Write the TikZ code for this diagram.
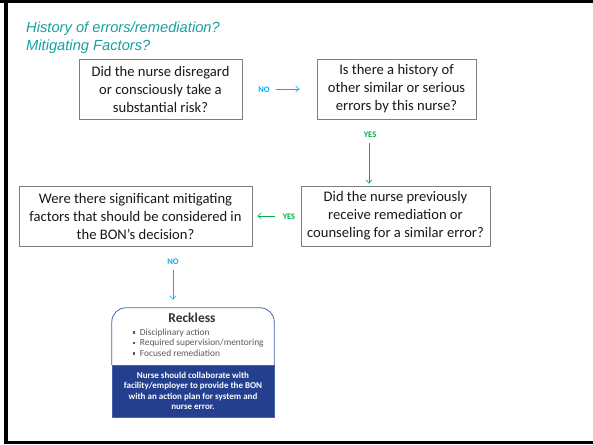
\documentclass[tikz,border=0pt]{standalone}
\usepackage{fontspec}
\setmainfont{Carlito}
\newfontfamily\titlefont{Liberation Sans}
\usetikzlibrary{arrows.meta}
\definecolor{teal1}{RGB}{22,160,160}
\definecolor{noblue}{RGB}{0,176,240}
\definecolor{yesgreen}{RGB}{0,176,80}
\definecolor{boxgray}{RGB}{127,127,127}
\definecolor{navy}{RGB}{35,63,142}
\definecolor{rim}{RGB}{70,98,170}
\definecolor{bulletgray}{RGB}{90,90,90}
\newcommand{\sqbullet}{\raisebox{1.6pt}{\rule{2.2pt}{2.2pt}}\hspace{4.5pt}}
\begin{document}
\begin{tikzpicture}[x=1pt,y=-1pt,
  qbox/.style={draw=boxgray, line width=0.8pt, fill=white, align=center,
    inner sep=0pt, text=black!90, font=\fontsize{14.6}{18}\selectfont},
  lbl/.style={inner sep=0pt, font=\bfseries\fontsize{8.5}{9}\selectfont},
  arr/.style={-{Straight Barb[length=3.5pt,width=6pt]}, line width=0.6pt},
  headline/.style={anchor=base west, inner sep=0pt, text=teal1,
    font=\titlefont\itshape\fontsize{14.7}{17}\selectfont}]
\useasboundingbox (0,0) rectangle (593,444);

% page frame
\fill[black] (0,0) rectangle (593,3);
\fill[black] (4,0) rectangle (8,444);
\fill[black] (4,441) rectangle (593,444);

% heading
\node[headline] (t1) at (26,33) {History of errors/remediation?};
\node[headline] (t2) at (26,50) {Mitigating Factors?};

% question boxes
\node[qbox, minimum width=163pt, minimum height=60pt] (q1) at (160.5,89)
  {Did the nurse disregard\\or consciously take a\\substantial risk?};
\node[qbox, minimum width=159pt, minimum height=60pt] (q2) at (396.5,89)
  {Is there a history of\\other similar or serious\\errors by this nurse?};
\node[qbox, minimum width=189pt, minimum height=60pt] (q3) at (395.5,216)
  {Did the nurse previously\\receive remediation or\\counseling for a similar error?};
\node[qbox, minimum width=233pt, minimum height=60pt] (q4) at (135.5,216)
  {Were there significant mitigating\\factors that should be considered in\\the BON’s decision?};

% outcome card
\node[minimum width=162pt, minimum height=57pt, inner sep=0pt] (reck) at (193,336.5) {};
\draw[draw=rim, fill=white, line width=0.8pt, rounded corners=14pt]
  (reck.south west) |- (reck.north east) -- (reck.south east);
\node[inner sep=0pt, text=black!80, font=\bfseries\fontsize{13.5}{15}\selectfont] (rtitle) at (192,318) {Reckless};
\node[anchor=west, inner sep=0pt, align=left, text=bulletgray,
  font=\fontsize{9.4}{10.5}\selectfont] (rlist) at (133,342.5)
  {\sqbullet Disciplinary action\\\sqbullet Required supervision/mentoring\\\sqbullet Focused remediation};
\node[fill=navy, draw=rim, line width=0.6pt, minimum width=162pt, minimum height=52pt, inner sep=0pt,
  text=white, align=center, font=\bfseries\fontsize{9}{10.4}\selectfont] (band) at (193,391)
  {Nurse should collaborate with\\facility/employer to provide the BON\\with an action plan for system and\\nurse error.};

% connectors
\node[lbl, text=noblue] (no1) at (264,90) {NO};
\draw[arr, noblue, shorten <=34pt, shorten >=17pt] (q1.east) -- (q2.west);

\node[lbl, text=yesgreen] (yes1) at (370,135) {YES};
\coordinate (v1) at (369,143);
\draw[arr, yesgreen, shorten >=2pt] (v1) -- (v1 |- q3.north);

\node[lbl, text=yesgreen] (yes2) at (289,217) {YES};
\draw[arr, yesgreen, shorten <=26pt, shorten >=5pt] (q3.west) -- (q4.east);

\node[lbl, text=noblue] (no2) at (173,262) {NO};
\coordinate (v2) at (173,270);
\draw[arr, noblue, shorten >=8pt] (v2) -- (v2 |- reck.north);
\end{tikzpicture}
\end{document}
